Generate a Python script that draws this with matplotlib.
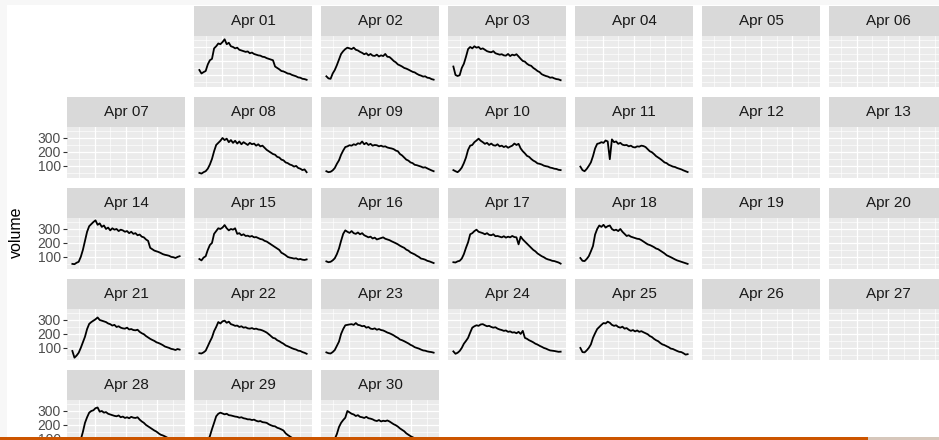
import numpy as np
import matplotlib
matplotlib.use("Agg")
import matplotlib.pyplot as plt
from matplotlib.patches import Rectangle

plt.rcParams['font.family'] = ['Liberation Sans', 'DejaVu Sans']

# sample times (hour of day), same for every day
hours = np.linspace(1.65, 22.35, 52)

# volume per day, April
apr01 = [135, 110, 120, 128, 175, 205, 215, 290, 305, 325, 320, 335,
         355, 320, 330, 305, 300, 290, 295, 280, 275, 270, 265, 268,
         255, 260, 250, 245, 240, 238, 230, 228, 220, 215, 210, 205,
         160, 150, 140, 128, 125, 118, 110, 108, 100, 95, 90, 82,
         80, 72, 70, 65]
apr02 = [90, 75, 72, 110, 135, 170, 210, 250, 270, 285, 295, 290,
         285, 295, 280, 275, 265, 258, 248, 255, 240, 250, 238, 236,
         245, 232, 240, 235, 250, 230, 228, 215, 200, 190, 175, 168,
         160, 150, 145, 138, 130, 122, 118, 108, 100, 95, 88, 90,
         80, 78, 70, 66]
apr03 = [160, 100, 92, 98, 150, 180, 230, 285, 300, 290, 305, 295,
         300, 285, 290, 280, 270, 265, 262, 270, 255, 250, 245, 248,
         240, 238, 250, 235, 245, 240, 248, 232, 215, 200, 195, 180,
         170, 165, 150, 140, 128, 120, 105, 98, 92, 88, 80, 82,
         75, 70, 68, 62]
apr08 = [50, 45, 55, 62, 80, 110, 150, 205, 250, 265, 280, 300,
         285, 295, 270, 285, 265, 280, 260, 275, 255, 270, 260, 250,
         265, 255, 260, 245, 255, 240, 245, 230, 215, 205, 195, 185,
         180, 165, 160, 145, 140, 125, 120, 110, 105, 95, 100, 85,
         80, 70, 75, 55]
apr09 = [62, 55, 58, 68, 85, 115, 140, 180, 210, 235, 240, 248,
         245, 255, 250, 262, 258, 275, 255, 265, 250, 258, 245, 250,
         248, 240, 245, 238, 240, 232, 228, 225, 220, 210, 205, 185,
         175, 160, 145, 138, 125, 120, 108, 105, 100, 95, 88, 90,
         82, 75, 68, 62]
apr10 = [70, 62, 55, 68, 88, 120, 160, 215, 245, 250, 270, 282,
         295, 280, 270, 258, 265, 250, 260, 248, 245, 255, 240, 245,
         235, 242, 230, 238, 245, 260, 250, 258, 225, 205, 190, 172,
         165, 150, 138, 130, 118, 115, 110, 102, 98, 95, 88, 85,
         80, 78, 72, 70]
apr11 = [95, 70, 62, 78, 100, 125, 170, 225, 258, 262, 270, 265,
         282, 275, 148, 290, 270, 275, 258, 265, 252, 248, 250, 240,
         245, 235, 232, 240, 238, 245, 242, 235, 220, 205, 198, 185,
         170, 160, 150, 138, 125, 120, 108, 102, 95, 92, 85, 80,
         75, 68, 62, 56]
apr14 = [50, 48, 58, 65, 100, 150, 215, 280, 320, 335, 350, 362,
         330, 340, 315, 325, 300, 310, 290, 305, 295, 300, 285, 295,
         290, 280, 285, 270, 280, 265, 270, 255, 260, 245, 240, 225,
         215, 165, 155, 145, 140, 135, 128, 120, 115, 112, 108, 100,
         98, 92, 100, 105]
apr15 = [85, 75, 95, 105, 150, 185, 200, 265, 285, 305, 300, 310,
         328, 305, 290, 300, 295, 305, 265, 270, 255, 262, 250, 252,
         245, 250, 240, 242, 235, 228, 225, 215, 210, 200, 190, 180,
         170, 160, 150, 130, 122, 112, 100, 95, 92, 88, 90, 82,
         85, 80, 78, 82]
apr16 = [68, 62, 65, 75, 90, 120, 160, 215, 265, 290, 280, 272,
         285, 270, 265, 275, 262, 270, 255, 248, 240, 245, 232, 238,
         225, 230, 235, 240, 230, 225, 220, 212, 205, 198, 190, 180,
         172, 165, 152, 145, 132, 125, 118, 108, 100, 88, 85, 80,
         72, 68, 62, 56]
apr17 = [62, 60, 68, 72, 88, 120, 165, 205, 262, 270, 285, 295,
         280, 275, 270, 262, 270, 258, 255, 262, 248, 250, 245, 240,
         248, 238, 245, 240, 250, 242, 240, 190, 245, 225, 210, 195,
         180, 165, 150, 140, 125, 115, 105, 98, 88, 82, 78, 72,
         70, 65, 60, 52]
apr18 = [92, 72, 70, 85, 105, 140, 178, 260, 300, 325, 315, 330,
         310, 320, 325, 300, 290, 295, 285, 300, 280, 265, 250, 255,
         245, 240, 235, 230, 228, 220, 210, 200, 190, 185, 178, 170,
         160, 155, 145, 135, 125, 112, 105, 98, 90, 82, 75, 70,
         65, 60, 55, 50]
apr21 = [78, 30, 45, 65, 100, 140, 180, 235, 272, 285, 295, 305,
         318, 300, 295, 290, 285, 275, 270, 260, 265, 250, 255, 245,
         240, 238, 245, 232, 235, 228, 226, 230, 215, 205, 198, 185,
         175, 165, 157, 150, 140, 135, 128, 120, 110, 105, 100, 93,
         90, 85, 92, 88]
apr22 = [62, 60, 68, 80, 112, 145, 175, 220, 250, 285, 275, 290,
         295, 280, 288, 270, 265, 258, 260, 250, 255, 245, 248, 240,
         238, 242, 235, 238, 232, 230, 225, 218, 210, 198, 185, 172,
         168, 155, 148, 138, 130, 118, 112, 105, 98, 92, 88, 80,
         78, 70, 65, 58]
apr23 = [68, 62, 60, 70, 85, 115, 145, 200, 235, 262, 265, 268,
         270, 265, 278, 265, 262, 255, 258, 245, 250, 238, 235, 240,
         230, 235, 228, 225, 218, 210, 205, 198, 190, 180, 172, 160,
         155, 148, 140, 132, 122, 115, 105, 100, 95, 88, 82, 80,
         75, 72, 70, 66]
apr24 = [75, 58, 65, 78, 100, 130, 150, 172, 210, 245, 255, 262,
         258, 268, 270, 262, 255, 258, 250, 245, 248, 238, 232, 228,
         222, 225, 215, 218, 210, 212, 205, 215, 200, 222, 172, 165,
         155, 148, 140, 130, 124, 115, 108, 100, 95, 88, 82, 80,
         78, 75, 72, 73]
apr25 = [100, 70, 68, 82, 100, 125, 172, 205, 235, 250, 265, 278,
         275, 288, 280, 265, 258, 262, 250, 245, 252, 238, 242, 230,
         222, 228, 218, 225, 215, 220, 212, 205, 198, 185, 178, 165,
         155, 148, 135, 125, 120, 112, 105, 95, 92, 85, 78, 72,
         70, 62, 52, 55]
apr28 = [60, 50, 55, 70, 95, 150, 215, 255, 288, 300, 305, 320,
         325, 295, 300, 288, 292, 280, 275, 270, 265, 262, 268, 255,
         260, 250, 255, 248, 258, 252, 250, 255, 238, 225, 215, 200,
         190, 180, 170, 160, 152, 140, 130, 125, 118, 110, 100, 92,
         85, 80, 72, 65]
apr29 = [55, 50, 52, 65, 85, 120, 170, 215, 262, 280, 288, 282,
         276, 280, 270, 268, 264, 260, 258, 252, 255, 248, 245, 240,
         240, 235, 238, 230, 225, 228, 220, 218, 215, 205, 198, 192,
         190, 180, 175, 168, 160, 140, 128, 118, 108, 100, 92, 85,
         80, 72, 68, 62]
apr30 = [60, 55, 58, 75, 100, 135, 185, 215, 235, 252, 300, 290,
         280, 275, 264, 270, 258, 255, 250, 258, 248, 245, 240, 232,
         228, 235, 225, 230, 227, 232, 225, 215, 205, 198, 188, 175,
         165, 155, 140, 130, 120, 112, 105, 98, 92, 85, 80, 75,
         70, 66, 62, 58]

volume = {1: apr01, 2: apr02, 3: apr03, 8: apr08, 9: apr09, 10: apr10,
          11: apr11, 14: apr14, 15: apr15, 16: apr16, 17: apr17,
          18: apr18, 21: apr21, 22: apr22, 23: apr23, 24: apr24,
          25: apr25, 28: apr28, 29: apr29, 30: apr30}
days = list(range(1, 31))

y_major = [100, 200, 300]
y_minor = [50, 150, 250, 350]
x_major = [6, 12, 18]
x_minor = [3, 9, 15, 21]

W, H = 939, 440
fig = plt.figure(figsize=(W / 100, H / 100), dpi=100)
fig.patch.set_facecolor('#f7f7f7')
fig.patches.append(Rectangle((7 / W, 0), 1, (H - 5) / H, transform=fig.transFigure,
                             facecolor='white', edgecolor='none', zorder=-5))

# shared scales, padded like ggplot's default expansion
allv = np.concatenate([np.asarray(v, float) for v in volume.values()])
ypad = 0.05 * (allv.max() - allv.min())
ylim = (allv.min() - ypad, allv.max() + ypad)
xpad = 0.05 * (hours[-1] - hours[0])
xlim = (hours[0] - xpad, hours[-1] + xpad)

pw, ph, sh = 118, 51, 30
for d in days:
    r, c = d // 7, d % 7
    left = 67 + 127 * c
    ptop = 36 + 91 * r

    ax = fig.add_axes([left / W, 1 - (ptop + ph) / H, pw / W, ph / H])
    ax.set_facecolor('#ebebeb')
    ax.set_xlim(xlim)
    ax.set_ylim(ylim)
    ax.set_xticks(x_major)
    ax.set_xticks(x_minor, minor=True)
    ax.set_yticks(y_major)
    ax.set_yticks(y_minor, minor=True)
    ax.grid(which='major', color='white', lw=0.9)
    ax.grid(which='minor', color='white', lw=0.45)
    ax.set_axisbelow(True)
    for s in ax.spines.values():
        s.set_visible(False)
    ax.tick_params(which='both', bottom=False, labelbottom=False,
                   left=False, labelleft=False)
    if c == 0:
        ax.tick_params(axis='y', which='major', left=True, labelleft=True,
                       length=3, width=0.8, color='#333333', labelsize=10,
                       labelcolor='#4d4d4d', pad=1.5)
    if d in volume:
        ax.plot(hours, volume[d], color='black', lw=1.3)

    sax = fig.add_axes([left / W, 1 - ptop / H, pw / W, sh / H])
    sax.set_facecolor('#d9d9d9')
    sax.set_xticks([])
    sax.set_yticks([])
    for s in sax.spines.values():
        s.set_visible(False)
    sax.text(0.5, 0.5, f"Apr {d:02d}", ha='center', va='center',
             fontsize=11, color='#1a1a1a', transform=sax.transAxes)

fig.text(16 / W, 1 - 232 / H, 'volume', rotation=90, ha='center', va='center',
         fontsize=11.5, color='black')

# footer bar
fig.patches.append(Rectangle((0, 0), 868 / W, 3 / H, transform=fig.transFigure,
                             facecolor='#cc5500', edgecolor='none', zorder=10))
fig.patches.append(Rectangle((868 / W, 0), 1, 3 / H, transform=fig.transFigure,
                             facecolor='#d6c7bb', edgecolor='none', zorder=10))

fig.savefig('out.png', dpi=100, facecolor=fig.get_facecolor())
